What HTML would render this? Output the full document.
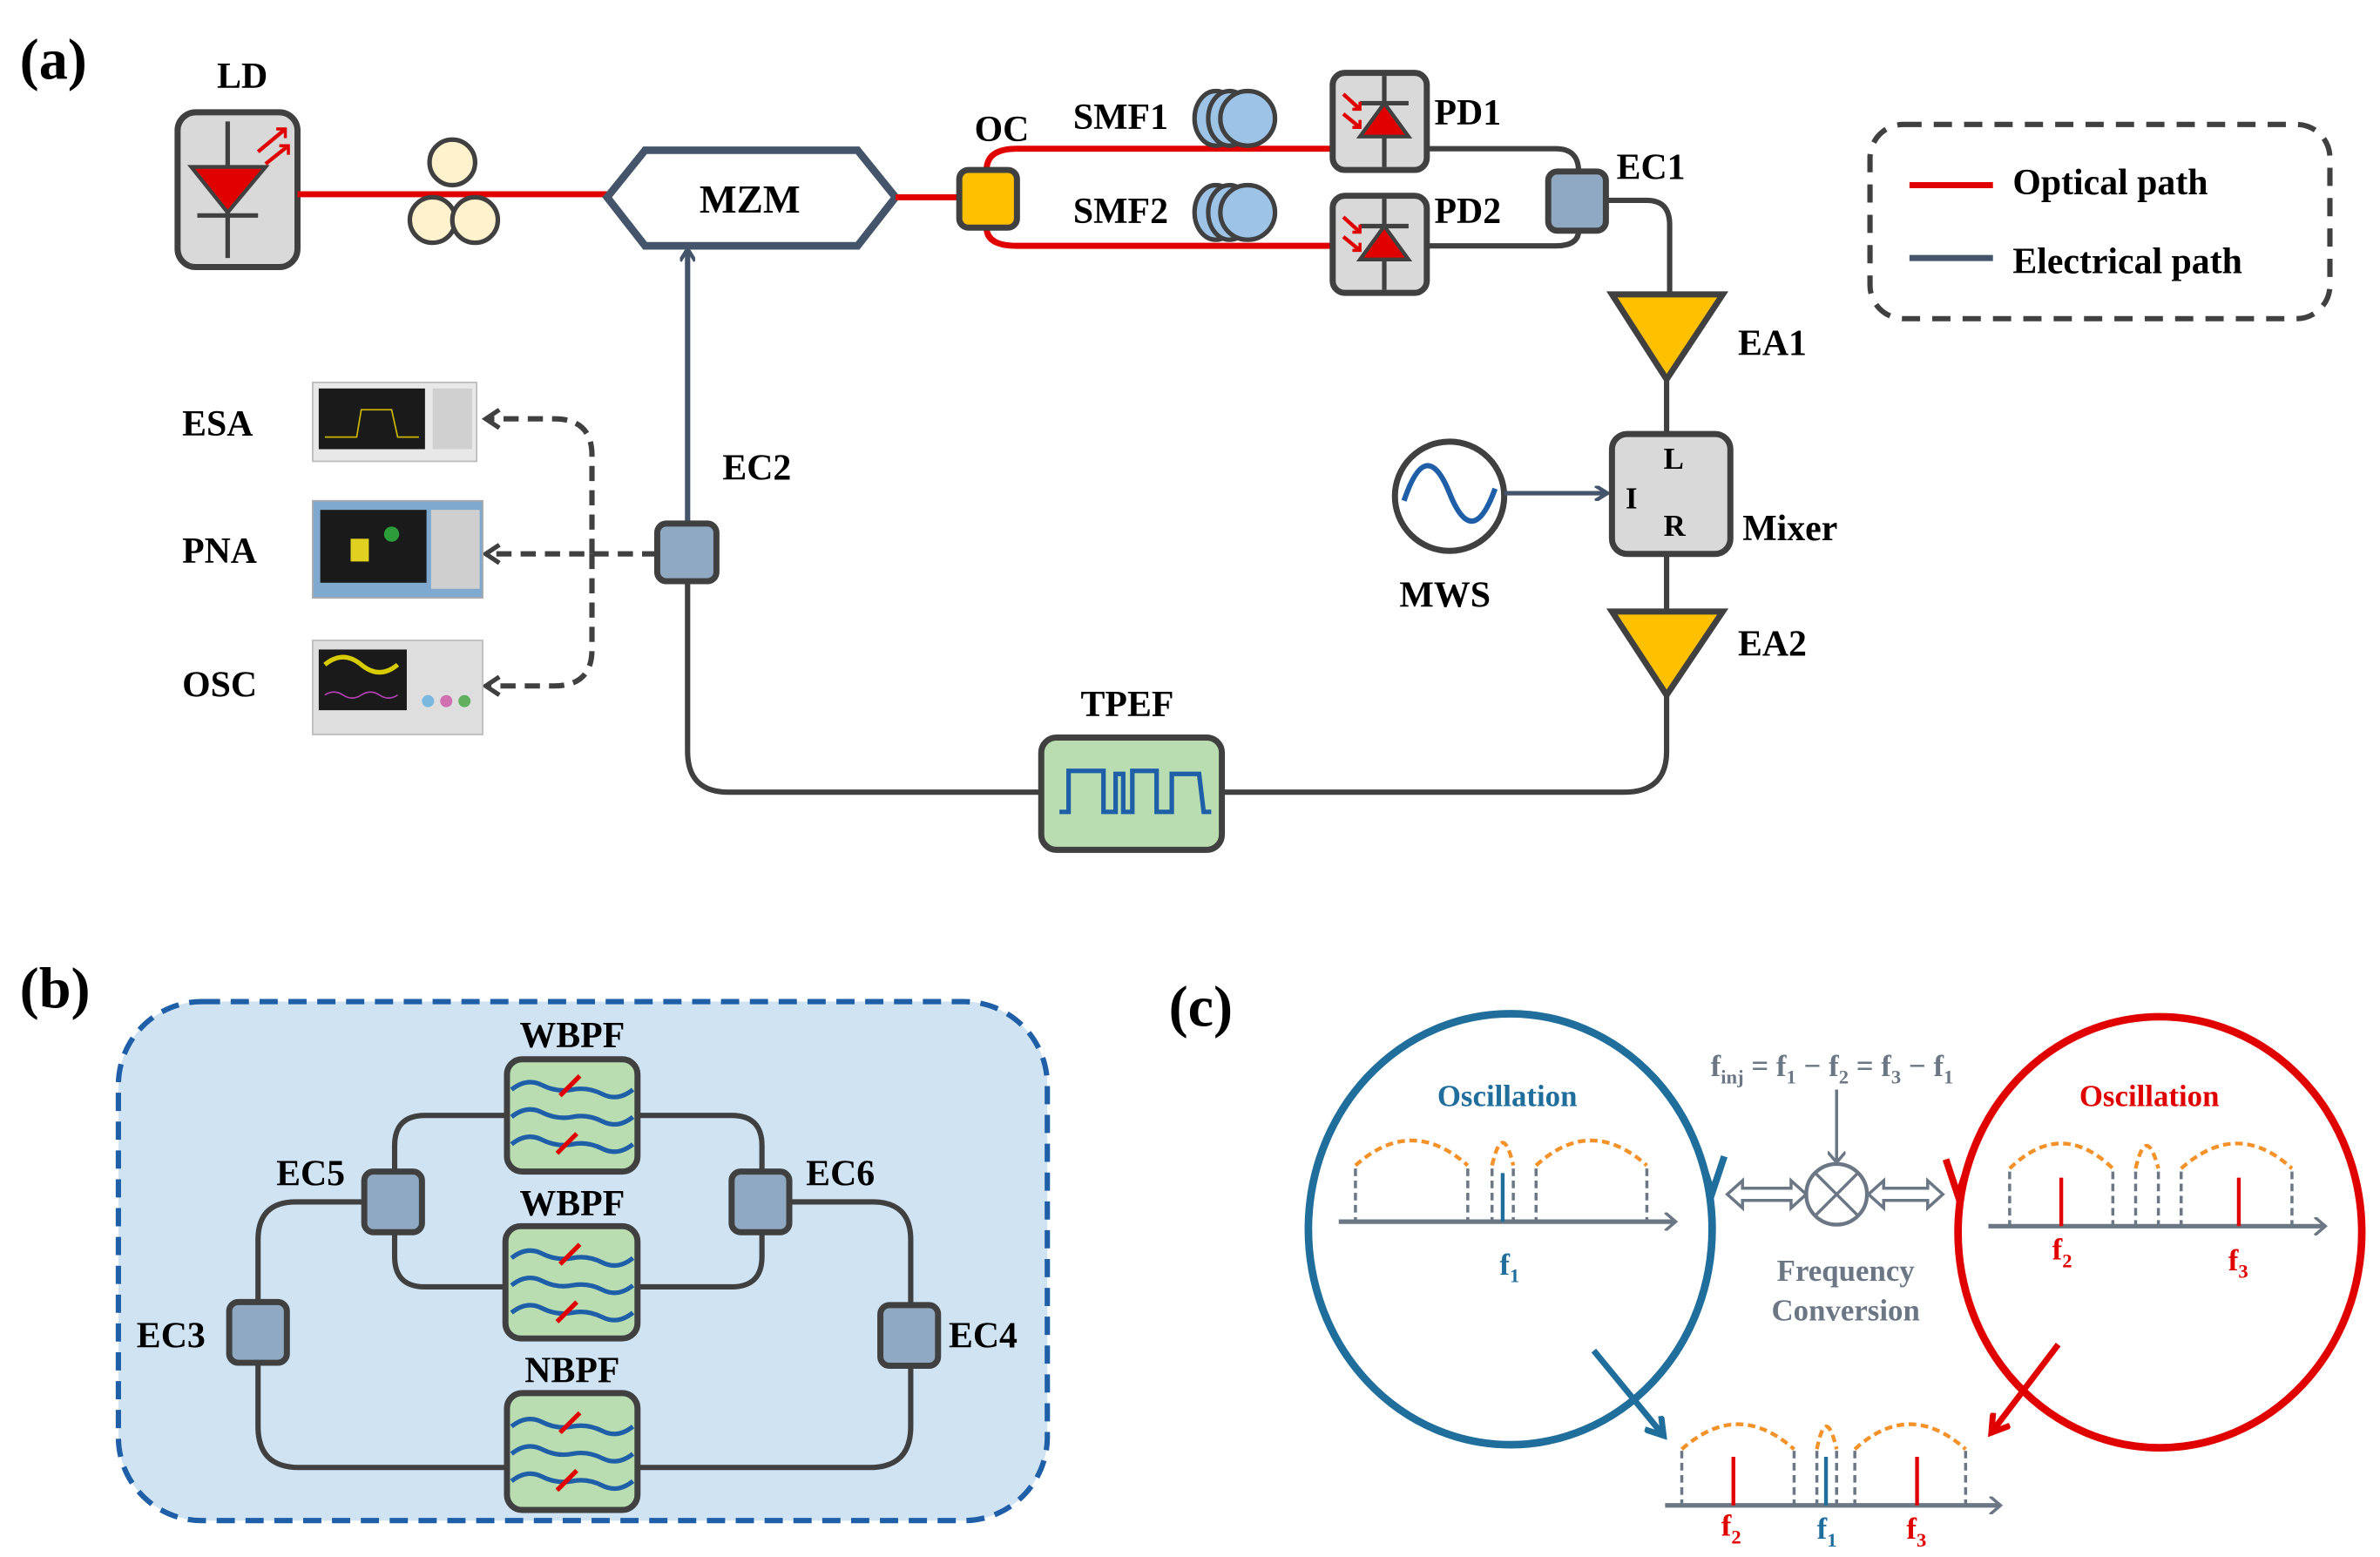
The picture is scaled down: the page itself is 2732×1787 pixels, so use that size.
<!DOCTYPE html>
<html><head><meta charset="utf-8"><style>
html,body{margin:0;padding:0;background:#fff;}
svg{display:block}
text{font-family:"Liberation Serif",serif;font-weight:bold;}
</style></head><body>
<svg width="2732" height="1787" viewBox="0 0 1568 1026" preserveAspectRatio="none" xmlns="http://www.w3.org/2000/svg">
<defs>
<marker id="ag" markerWidth="10" markerHeight="10" refX="8" refY="5" orient="auto" markerUnits="userSpaceOnUse"><path d="M1,0 L9,5 L1,10" fill="none" stroke="#44546a" stroke-width="2.5"/></marker>
<marker id="ad" markerWidth="14" markerHeight="14" refX="11" refY="7" orient="auto" markerUnits="userSpaceOnUse"><path d="M2,1 L11,7 L2,13" fill="none" stroke="#404040" stroke-width="3"/></marker>
<marker id="ab" markerWidth="16" markerHeight="16" refX="12" refY="8" orient="auto" markerUnits="userSpaceOnUse"><path d="M1,1 L12,8 L1,15" fill="none" stroke="#1f6e9c" stroke-width="4"/></marker>
<marker id="ar" markerWidth="16" markerHeight="16" refX="12" refY="8" orient="auto" markerUnits="userSpaceOnUse"><path d="M1,1 L12,8 L1,15" fill="none" stroke="#e00000" stroke-width="4"/></marker>
<marker id="ax" markerWidth="10" markerHeight="12" refX="8" refY="6" orient="auto" markerUnits="userSpaceOnUse"><path d="M1,0 L8,6 L1,12" fill="none" stroke="#6b7785" stroke-width="2"/></marker>
<g id="wave">
<path d="M-40,-18 q10,-8 20,-3 t20,3 t20,3 t20,-3" fill="none" stroke="#1f5fa8" stroke-width="3"/>
<path d="M-40,0 q10,-8 20,-3 t20,3 t20,3 t20,-3" fill="none" stroke="#1f5fa8" stroke-width="3"/>
<path d="M-40,18 q10,-8 20,-3 t20,3 t20,3 t20,-3" fill="none" stroke="#1f5fa8" stroke-width="3"/>
<line x1="-8" y1="-14" x2="5" y2="-27" stroke="#e00000" stroke-width="3"/>
<line x1="-10" y1="24" x2="3" y2="11" stroke="#e00000" stroke-width="3"/>
</g>
<g id="pd">
<rect x="-31" y="-32" width="62" height="64" rx="8" fill="#d9d9d9" stroke="#404040" stroke-width="4"/>
<line x1="3" y1="-30" x2="3" y2="30" stroke="#404040" stroke-width="3"/>
<line x1="-13" y1="-12" x2="19" y2="-12" stroke="#404040" stroke-width="3"/>
<path d="M-13,10 L19,10 L3,-12 Z" fill="#e00000" stroke="#404040" stroke-width="2.5"/>
<path d="M-24,-18 L-13,-8 M-24,-5 L-13,4" stroke="#e00000" stroke-width="2.5" fill="none"/>
<path d="M-18,-8 L-13,-8 L-13,-13 M-18,4 L-13,4 L-13,-1" stroke="#e00000" stroke-width="2" fill="none"/>
</g>
</defs>

<!-- (a) -->
<text x="13" y="52" font-size="38">(a)</text>
<text x="143" y="58" font-size="24">LD</text>
<rect x="117" y="74" width="79" height="102" rx="12" fill="#d9d9d9" stroke="#404040" stroke-width="4"/>
<line x1="150" y1="80" x2="150" y2="170" stroke="#404040" stroke-width="3"/>
<path d="M126,110 L175,110 L150,140 Z" fill="#e00000" stroke="#404040" stroke-width="2.5"/>
<line x1="130" y1="142" x2="170" y2="142" stroke="#404040" stroke-width="3"/>
<path d="M170,100 L188,85 M175,108 L190,96" stroke="#e00000" stroke-width="2.5"/>
<path d="M182,85 L188,85 L188,91 M184,96 L190,96 L190,102" stroke="#e00000" stroke-width="2" fill="none"/>
<line x1="196" y1="128" x2="400" y2="128" stroke="#e00000" stroke-width="4"/>
<circle cx="298" cy="107" r="15" fill="#fff2cc" stroke="#404040" stroke-width="3"/>
<circle cx="285" cy="145" r="15" fill="#fff2cc" stroke="#404040" stroke-width="3"/>
<circle cx="313" cy="145" r="15" fill="#fff2cc" stroke="#404040" stroke-width="3"/>
<polygon points="400,130 425,99 565,99 590,130 565,162 425,162" fill="#fff" stroke="#44546a" stroke-width="5"/>
<text x="494" y="140" font-size="26" text-anchor="middle">MZM</text>
<line x1="590" y1="130" x2="634" y2="130" stroke="#e00000" stroke-width="4"/>
<path d="M650,112 Q650,98 670,98 L880,98" fill="none" stroke="#e00000" stroke-width="4"/>
<path d="M650,150 Q650,162 670,162 L880,162" fill="none" stroke="#e00000" stroke-width="4"/>
<rect x="632" y="112" width="38" height="38" rx="6" fill="#ffc000" stroke="#404040" stroke-width="4"/>
<text x="642" y="93" font-size="24">OC</text>
<text x="707" y="85" font-size="24">SMF1</text>
<text x="707" y="147" font-size="24">SMF2</text>
<g fill="#9dc3e6" stroke="#404040" stroke-width="3">
<ellipse cx="801" cy="78" rx="14" ry="18"/><ellipse cx="810" cy="78" rx="14" ry="18"/><ellipse cx="822" cy="78" rx="18" ry="18"/>
<ellipse cx="801" cy="140" rx="14" ry="18"/><ellipse cx="810" cy="140" rx="14" ry="18"/><ellipse cx="822" cy="140" rx="18" ry="18"/>
</g>
<use href="#pd" x="909" y="80"/>
<use href="#pd" x="909" y="161"/>
<text x="945" y="82" font-size="24">PD1</text>
<text x="945" y="147" font-size="24">PD2</text>
<g fill="none" stroke="#404040" stroke-width="3.5">
<path d="M940,98 L1025,98 Q1040,98 1040,113"/>
<path d="M940,162 L1025,162 Q1040,162 1040,152"/>
<path d="M1058,132 L1085,132 Q1100,132 1100,148 L1100,195"/>
<path d="M1098,250 L1098,286"/>
<path d="M1098,365 L1098,402"/>
<path d="M1098,458 L1098,495 Q1098,522 1070,522 L805,522"/>
<path d="M686,522 L480,522 Q453,522 453,495 L453,383"/>
</g>
<rect x="1020" y="113" width="38" height="39" rx="6" fill="#8ea9c1" stroke="#404040" stroke-width="4"/>
<text x="1065" y="118" font-size="24">EC1</text>
<path d="M1062,194 L1135,194 L1098,250 Z" fill="#ffc000" stroke="#404040" stroke-width="4"/>
<text x="1145" y="234" font-size="24">EA1</text>
<rect x="1062" y="286" width="78" height="79" rx="10" fill="#d9d9d9" stroke="#404040" stroke-width="4"/>
<text x="1096" y="309" font-size="20">L</text>
<text x="1071" y="335" font-size="20">I</text>
<text x="1096" y="353" font-size="20">R</text>
<text x="1148" y="356" font-size="24">Mixer</text>
<circle cx="955" cy="327" r="36" fill="#fff" stroke="#404040" stroke-width="4"/>
<path d="M925,330 C935,300 945,300 955,325 C965,350 975,350 985,322" fill="none" stroke="#1f5fa8" stroke-width="3.5"/>
<line x1="991" y1="325" x2="1058" y2="325" stroke="#44546a" stroke-width="3" marker-end="url(#ag)"/>
<text x="922" y="400" font-size="24">MWS</text>
<path d="M1062,403 L1135,403 L1098,458 Z" fill="#ffc000" stroke="#404040" stroke-width="4"/>
<text x="1145" y="432" font-size="24">EA2</text>
<rect x="686" y="486" width="119" height="74" rx="10" fill="#b9ddb0" stroke="#404040" stroke-width="4"/>
<path d="M698,535 L704,535 L704,508 L727,508 L727,535 L735,535 L735,510 L740,510 L740,535 L746,535 L746,508 L762,508 L762,535 L772,535 L772,510 L790,510 L793,535 L798,535" fill="none" stroke="#1f5fa8" stroke-width="3"/>
<text x="712" y="472" font-size="24">TPEF</text>
<line x1="453" y1="345" x2="453" y2="165" stroke="#44546a" stroke-width="3.5" marker-end="url(#ag)"/>
<rect x="433" y="345" width="39" height="38" rx="6" fill="#8ea9c1" stroke="#404040" stroke-width="4"/>
<text x="476" y="316" font-size="24">EC2</text>
<g fill="none" stroke="#404040" stroke-width="3.5" stroke-dasharray="10,6">
<path d="M433,365 L320,365" marker-end="url(#ad)"/>
<path d="M390,365 L390,300 Q390,276 365,276 L320,276" marker-end="url(#ad)"/>
<path d="M390,365 L390,428 Q390,452 365,452 L320,452" marker-end="url(#ad)"/>
</g>
<!-- instruments -->
<rect x="206" y="252" width="108" height="52" fill="#e8e8e8" stroke="#bbb"/>
<rect x="210" y="256" width="70" height="40" fill="#1a1a1a"/>
<path d="M214,288 L235,288 L238,270 L258,270 L262,288 L276,288" stroke="#c8b400" fill="none"/>
<rect x="285" y="256" width="26" height="40" fill="#d0d0d0"/>
<rect x="206" y="330" width="112" height="64" fill="#7fa9cf" stroke="#aaa"/>
<rect x="211" y="336" width="70" height="48" fill="#1a1a1a"/>
<rect x="231" y="355" width="12" height="15" fill="#e0d020"/>
<circle cx="258" cy="352" r="5" fill="#2d9c3a"/>
<rect x="284" y="336" width="32" height="52" fill="#cfcfcf"/>
<rect x="206" y="422" width="112" height="62" fill="#dedede" stroke="#bbb"/>
<rect x="210" y="428" width="58" height="40" fill="#1a1a1a"/>
<path d="M214,438 Q226,428 238,438 T262,438" stroke="#d8cc00" fill="none" stroke-width="3"/>
<path d="M214,458 q6,-4 12,0 t12,0 t12,0 t12,0" stroke="#b040b0" fill="none"/>
<circle cx="282" cy="462" r="4" fill="#7ab8e0"/><circle cx="294" cy="462" r="4" fill="#d070b0"/><circle cx="306" cy="462" r="4" fill="#60b060"/>
<text x="120" y="287" font-size="24">ESA</text>
<text x="120" y="371" font-size="24">PNA</text>
<text x="120" y="459" font-size="24">OSC</text>
<!-- legend -->
<rect x="1232" y="82" width="303" height="128" rx="22" fill="none" stroke="#404040" stroke-width="3.5" stroke-dasharray="12,8"/>
<line x1="1258" y1="122" x2="1313" y2="122" stroke="#e00000" stroke-width="4"/>
<text x="1326" y="128" font-size="24">Optical path</text>
<line x1="1258" y1="170" x2="1313" y2="170" stroke="#44546a" stroke-width="4"/>
<text x="1326" y="180" font-size="24">Electrical path</text>

<!-- (b) -->
<text x="13" y="664" font-size="38">(b)</text>
<rect x="78" y="660" width="612" height="342" rx="55" fill="#cfe3f3" stroke="#1f5fa8" stroke-width="3.5" stroke-dasharray="12,7"/>
<g fill="none" stroke="#404040" stroke-width="3.5">
<path d="M333,735 L280,735 Q260,735 260,755 L260,772"/>
<path d="M420,735 L482,735 Q502,735 502,755 L502,772"/>
<path d="M260,812 L260,828 Q260,848 280,848 L333,848"/>
<path d="M502,812 L502,828 Q502,848 482,848 L420,848"/>
<path d="M240,792 L195,792 Q170,792 170,817 L170,858"/>
<path d="M520,792 L575,792 Q600,792 600,817 L600,860"/>
<path d="M170,898 L170,940 Q170,967 197,967 L333,967"/>
<path d="M600,900 L600,940 Q600,967 573,967 L420,967"/>
</g>
<g fill="#b9ddb0" stroke="#404040" stroke-width="4">
<rect x="334" y="698" width="86" height="74" rx="10"/>
<rect x="333" y="808" width="87" height="74" rx="10"/>
<rect x="334" y="918" width="86" height="77" rx="10"/>
</g>
<use href="#wave" x="377" y="736"/>
<use href="#wave" x="377" y="847"/>
<use href="#wave" x="377" y="958"/>
<g fill="#8ea9c1" stroke="#404040" stroke-width="4">
<rect x="240" y="772" width="38" height="40" rx="6"/>
<rect x="482" y="772" width="38" height="40" rx="6"/>
<rect x="151" y="858" width="38" height="40" rx="6"/>
<rect x="580" y="860" width="38" height="40" rx="6"/>
</g>
<text x="377" y="690" font-size="24" text-anchor="middle">WBPF</text>
<text x="377" y="801" font-size="24" text-anchor="middle">WBPF</text>
<text x="377" y="911" font-size="24" text-anchor="middle">NBPF</text>
<text x="182" y="781" font-size="24">EC5</text>
<text x="531" y="781" font-size="24">EC6</text>
<text x="90" y="888" font-size="24">EC3</text>
<text x="625" y="888" font-size="24">EC4</text>

<!-- (c) -->
<text x="770" y="676" font-size="38">(c)</text>
<ellipse cx="995" cy="810" rx="133" ry="142" fill="none" stroke="#1f6e9c" stroke-width="5"/>
<path d="M1120,762 L1128,786 L1136,762" fill="none" stroke="#1f6e9c" stroke-width="4.5"/>
<ellipse cx="1423" cy="812" rx="133" ry="142" fill="none" stroke="#e00000" stroke-width="5"/>
<path d="M1282,764 L1290,788 L1298,764" fill="none" stroke="#e00000" stroke-width="4.5"/>
<text x="993" y="729" font-size="20" fill="#1f6e9c" text-anchor="middle">Oscillation</text>
<text x="1416" y="729" font-size="20" fill="#e00000" text-anchor="middle">Oscillation</text>
<!-- left spectrum -->
<line x1="882" y1="805" x2="1104" y2="805" stroke="#6b7785" stroke-width="3" marker-end="url(#ax)"/>
<g stroke="#6b7785" stroke-width="2" stroke-dasharray="5,3"><line x1="893" y1="770" x2="893" y2="805"/><line x1="967" y1="770" x2="967" y2="805"/><line x1="983" y1="770" x2="983" y2="805"/><line x1="997" y1="770" x2="997" y2="805"/><line x1="1012" y1="770" x2="1012" y2="805"/><line x1="1085" y1="770" x2="1085" y2="805"/></g>
<g fill="none" stroke="#f4922a" stroke-width="2.5" stroke-dasharray="5,3"><path d="M893,768 Q930,735 967,768"/><path d="M983,768 Q990,738 997,768"/><path d="M1012,768 Q1048,735 1085,768"/></g>
<line x1="990" y1="773" x2="990" y2="805" stroke="#1f6e9c" stroke-width="2.5"/>
<text x="988" y="840" font-size="20" fill="#1f6e9c">f<tspan font-size="13" dy="5">1</tspan></text>
<!-- right spectrum -->
<line x1="1310" y1="808" x2="1532" y2="808" stroke="#6b7785" stroke-width="3" marker-end="url(#ax)"/>
<g stroke="#6b7785" stroke-width="2" stroke-dasharray="5,3"><line x1="1324" y1="772" x2="1324" y2="808"/><line x1="1392" y1="772" x2="1392" y2="808"/><line x1="1407" y1="772" x2="1407" y2="808"/><line x1="1422" y1="772" x2="1422" y2="808"/><line x1="1437" y1="772" x2="1437" y2="808"/><line x1="1510" y1="772" x2="1510" y2="808"/></g>
<g fill="none" stroke="#f4922a" stroke-width="2.5" stroke-dasharray="5,3"><path d="M1324,770 Q1358,737 1392,770"/><path d="M1407,770 Q1414,740 1422,770"/><path d="M1437,770 Q1474,737 1510,770"/></g>
<line x1="1358" y1="776" x2="1358" y2="808" stroke="#e00000" stroke-width="2.5"/>
<line x1="1475" y1="776" x2="1475" y2="808" stroke="#e00000" stroke-width="2.5"/>
<text x="1352" y="830" font-size="20" fill="#e00000">f<tspan font-size="13" dy="5">2</tspan></text>
<text x="1468" y="837" font-size="20" fill="#e00000">f<tspan font-size="13" dy="5">3</tspan></text>
<!-- center -->
<text x="1127" y="709" font-size="20" fill="#6b7785">f<tspan font-size="13" dy="5">inj</tspan><tspan dy="-5"> = f</tspan><tspan font-size="13" dy="5">1</tspan><tspan dy="-5"> − f</tspan><tspan font-size="13" dy="5">2</tspan><tspan dy="-5"> = f</tspan><tspan font-size="13" dy="5">3</tspan><tspan dy="-5"> − f</tspan><tspan font-size="13" dy="5">1</tspan></text>
<line x1="1210" y1="718" x2="1210" y2="766" stroke="#6b7785" stroke-width="2" marker-end="url(#ax)"/>
<circle cx="1210" cy="787" r="20" fill="#fff" stroke="#6b7785" stroke-width="2.5"/>
<path d="M1196,773 L1224,801 M1224,773 L1196,801" stroke="#6b7785" stroke-width="2"/>
<g fill="#fff" stroke="#6b7785" stroke-width="2">
<path d="M1138,787 L1148,778 L1148,783 L1180,783 L1180,778 L1190,787 L1180,796 L1180,791 L1148,791 L1148,796 Z"/>
<path d="M1231,787 L1241,778 L1241,783 L1270,783 L1270,778 L1280,787 L1270,796 L1270,791 L1241,791 L1241,796 Z"/>
</g>
<text x="1216" y="844" font-size="20" fill="#6b7785" text-anchor="middle">Frequency</text>
<text x="1216" y="870" font-size="20" fill="#6b7785" text-anchor="middle">Conversion</text>
<!-- arrows down -->
<line x1="1050" y1="890" x2="1096" y2="946" stroke="#1f6e9c" stroke-width="4" marker-end="url(#ab)"/>
<line x1="1356" y1="886" x2="1312" y2="944" stroke="#e00000" stroke-width="4" marker-end="url(#ar)"/>
<!-- bottom spectrum -->
<line x1="1097" y1="992" x2="1318" y2="992" stroke="#6b7785" stroke-width="3" marker-end="url(#ax)"/>
<g stroke="#6b7785" stroke-width="2" stroke-dasharray="5,3"><line x1="1108" y1="956" x2="1108" y2="992"/><line x1="1182" y1="956" x2="1182" y2="992"/><line x1="1197" y1="956" x2="1197" y2="992"/><line x1="1210" y1="956" x2="1210" y2="992"/><line x1="1222" y1="956" x2="1222" y2="992"/><line x1="1295" y1="956" x2="1295" y2="992"/></g>
<g fill="none" stroke="#f4922a" stroke-width="2.5" stroke-dasharray="5,3"><path d="M1108,955 Q1145,922 1182,955"/><path d="M1197,955 Q1203,925 1210,955"/><path d="M1222,955 Q1258,922 1295,955"/></g>
<line x1="1142" y1="960" x2="1142" y2="992" stroke="#e00000" stroke-width="2.5"/>
<line x1="1203" y1="960" x2="1203" y2="992" stroke="#1f6e9c" stroke-width="2.5"/>
<line x1="1263" y1="960" x2="1263" y2="992" stroke="#e00000" stroke-width="2.5"/>
<text x="1134" y="1012" font-size="20" fill="#e00000">f<tspan font-size="13" dy="5">2</tspan></text>
<text x="1197" y="1014" font-size="20" fill="#1f6e9c">f<tspan font-size="13" dy="5">1</tspan></text>
<text x="1256" y="1014" font-size="20" fill="#e00000">f<tspan font-size="13" dy="5">3</tspan></text>
</svg>
</body></html>
